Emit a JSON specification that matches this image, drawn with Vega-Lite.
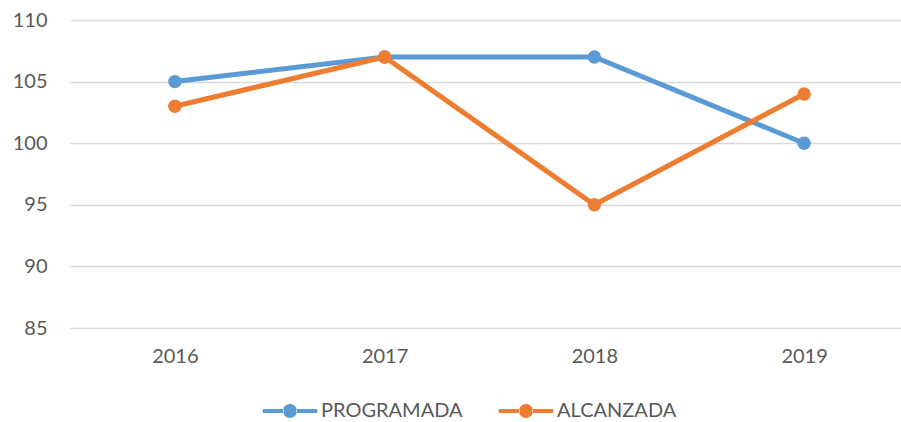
{
  "$schema": "https://vega.github.io/schema/vega-lite/v6.json",
  "autosize": "none",
  "width": 839,
  "height": 308,
  "padding": {"left": 70, "top": 20, "right": 0, "bottom": 94},
  "background": "white",
  "config": {
    "font": "Lato",
    "view": {"stroke": null},
    "axis": {"labelFont": "Lato", "labelFontSize": 20, "labelColor": "#595959", "title": null}
  },
  "data": {
    "values": [
      {"year": "2016", "serie": "PROGRAMADA", "value": 105},
      {"year": "2017", "serie": "PROGRAMADA", "value": 107},
      {"year": "2018", "serie": "PROGRAMADA", "value": 107},
      {"year": "2019", "serie": "PROGRAMADA", "value": 100},
      {"year": "2016", "serie": "ALCANZADA", "value": 103},
      {"year": "2017", "serie": "ALCANZADA", "value": 107},
      {"year": "2018", "serie": "ALCANZADA", "value": 95},
      {"year": "2019", "serie": "ALCANZADA", "value": 104}
    ]
  },
  "encoding": {
    "x": {
      "field": "year", "type": "ordinal",
      "scale": {"type": "point", "padding": 0.5},
      "axis": {"labelAngle": 0, "ticks": false, "domain": false, "grid": false, "labelPadding": 18}
    },
    "y": {
      "field": "value", "type": "quantitative",
      "scale": {"domain": [85, 110], "nice": false, "zero": false},
      "axis": {"values": [85, 90, 95, 100, 105, 110], "ticks": false, "domain": false, "grid": true, "gridColor": "#d9d9d9", "gridWidth": 1.5, "labelPadding": 23}
    },
    "color": {
      "field": "serie", "type": "nominal",
      "scale": {"domain": ["PROGRAMADA", "ALCANZADA"], "range": ["#5b9bd5", "#ed7d31"]},
      "legend": {
        "title": null,
        "orient": "none",
        "direction": "horizontal",
        "legendX": 210,
        "legendY": 381,
        "symbolType": "M-3.9,-0.3H-0.9V0.3H-3.9Z M0.9,-0.3H3.9V0.3H0.9Z M-1,0A1,1 0 1,0 1,0A1,1 0 1,0 -1,0Z",
        "symbolSize": 196,
        "symbolStrokeWidth": 0,
        "symbolOpacity": 1,
        "labelOffset": 21,
        "labelFont": "Lato",
        "labelFontSize": 20,
        "labelColor": "#595959",
        "columnPadding": 35
      }
    }
  },
  "layer": [
    {"mark": {"type": "line", "strokeWidth": 5}},
    {"mark": {"type": "point", "filled": true, "size": 180, "opacity": 1}}
  ]
}
